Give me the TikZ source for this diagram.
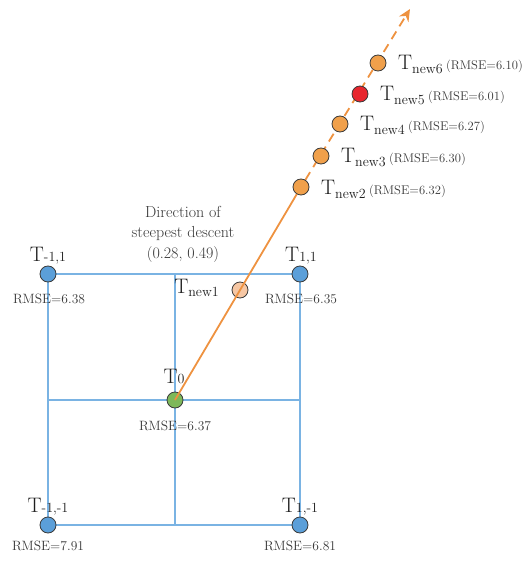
\documentclass[tikz,border=0pt]{standalone}
\usepackage{fontspec}
\usepackage{xcolor}
\usetikzlibrary{arrows.meta,backgrounds}

\definecolor{gridblue}{HTML}{7AB3E3}
\definecolor{ptblue}{HTML}{5B9FD9}
\definecolor{ptgreen}{HTML}{7DB85A}
\definecolor{ptorange}{HTML}{F0A04B}
\definecolor{ptpeach}{HTML}{F6C7A4}
\definecolor{ptred}{HTML}{E8262E}
\definecolor{pathorange}{HTML}{EE9240}
\definecolor{dotedge}{HTML}{3A3A3A}
\definecolor{textdark}{HTML}{1E1E1E}
\definecolor{textgray}{HTML}{383838}

\newcommand{\bigT}{\fontsize{21}{25}\selectfont}
\newcommand{\subT}{\fontsize{14}{16}\selectfont}
\newcommand{\rmsefont}{\fontsize{13.5}{16}\selectfont}
\newcommand{\steprmse}{\fontsize{12.6}{15}\selectfont}
\newcommand{\Tlab}[2][-1pt]{{\bigT T}\raisebox{#1}{\subT #2}}

\begin{document}
\begin{tikzpicture}[x=1pt, y=-1pt,
    dot/.style={circle, draw=dotedge, line width=0.8pt, minimum size=16pt, inner sep=0pt},
    gridline/.style={draw=gridblue, line width=1.3pt},
    tlabel/.style={text=textdark, inner sep=0pt, anchor=base},
    rmse/.style={text=textgray, font=\rmsefont, inner sep=0pt, anchor=base},
    pathline/.style={draw=pathorange, line width=1.8pt}]

\useasboundingbox (0,0) rectangle (525,561);

% Grid points
\node[dot, fill=ptblue] (tl) at (48,274) {};
\node[dot, fill=ptblue] (tr) at (300,274) {};
\node[dot, fill=ptblue] (bl) at (48,525) {};
\node[dot, fill=ptblue] (br) at (300,525) {};
\node[dot, fill=ptgreen] (t0) at (175,400) {};

\coordinate (tm) at (175,274);
\coordinate (bm) at (175,525);
\coordinate (ml) at (48,400);
\coordinate (mr) at (300,400);

% Grid lines
\begin{scope}[on background layer]
\draw[gridline] (tl) -- (tr) -- (br) -- (bl) -- (tl);
\draw[gridline] (tm) -- (t0) -- (bm);
\draw[gridline] (ml) -- (t0) -- (mr);
\end{scope}

% Grid labels
\node[tlabel] (tl-lab) at (48,261) {\Tlab[0pt]{-1,1}};
\node[tlabel] (tr-lab) at (301,261) {\Tlab[0pt]{1,1}};
\node[tlabel] (t0-lab) at (174,383) {\Tlab[0pt]{0}};
\node[tlabel] (bl-lab) at (48,512) {\Tlab[0pt]{-1,-1}};
\node[tlabel] (br-lab) at (300,512) {\Tlab[0pt]{1,-1}};

\node[rmse] (tl-val) at (49,303) {RMSE=6.38};
\node[rmse] (tr-val) at (301,303) {RMSE=6.35};
\node[rmse] (t0-val) at (175,430) {RMSE=6.37};
\node[rmse] (bl-val) at (48,550) {RMSE=7.91};
\node[rmse] (br-val) at (300,550) {RMSE=6.81};

% First step along the descent direction
\node[dot, fill=ptpeach] (n1) at (240,290) {};
\node[tlabel, anchor=base east] (n1-lab) at (219,293) {\Tlab[-3pt]{new1}};

\node[text=textgray, font=\fontsize{16}{20.5}\selectfont, align=center, inner sep=0pt]
    (dir) at (183,234) {Direction of\\steepest descent\\(0.28, 0.49)};

% Further steps
\foreach \idx/\x/\y/\col/\val in {2/301/187/ptorange/6.32, 3/321/156/ptorange/6.30,
    4/340/124/ptorange/6.27, 5/360/94/ptred/6.01, 6/378/63/ptorange/6.10} {
    \node[dot, fill=\col] (n\idx) at (\x,\y) {};
    \node[tlabel, anchor=base west] (n\idx-lab) at (\x+20,\y+7)
        {\Tlab[-4pt]{new\idx}\ {\steprmse\color{textgray}(RMSE=\val)}};
}

\coordinate (tip) at (410,9);

% Search path
\draw[pathline] (t0.center) -- (n2);
\begin{scope}[on background layer]
\draw[pathline, dash pattern=on 9pt off 6pt, -{Stealth[length=12pt,width=11pt]}] (n2) -- (tip);
\end{scope}

\end{tikzpicture}
\end{document}
